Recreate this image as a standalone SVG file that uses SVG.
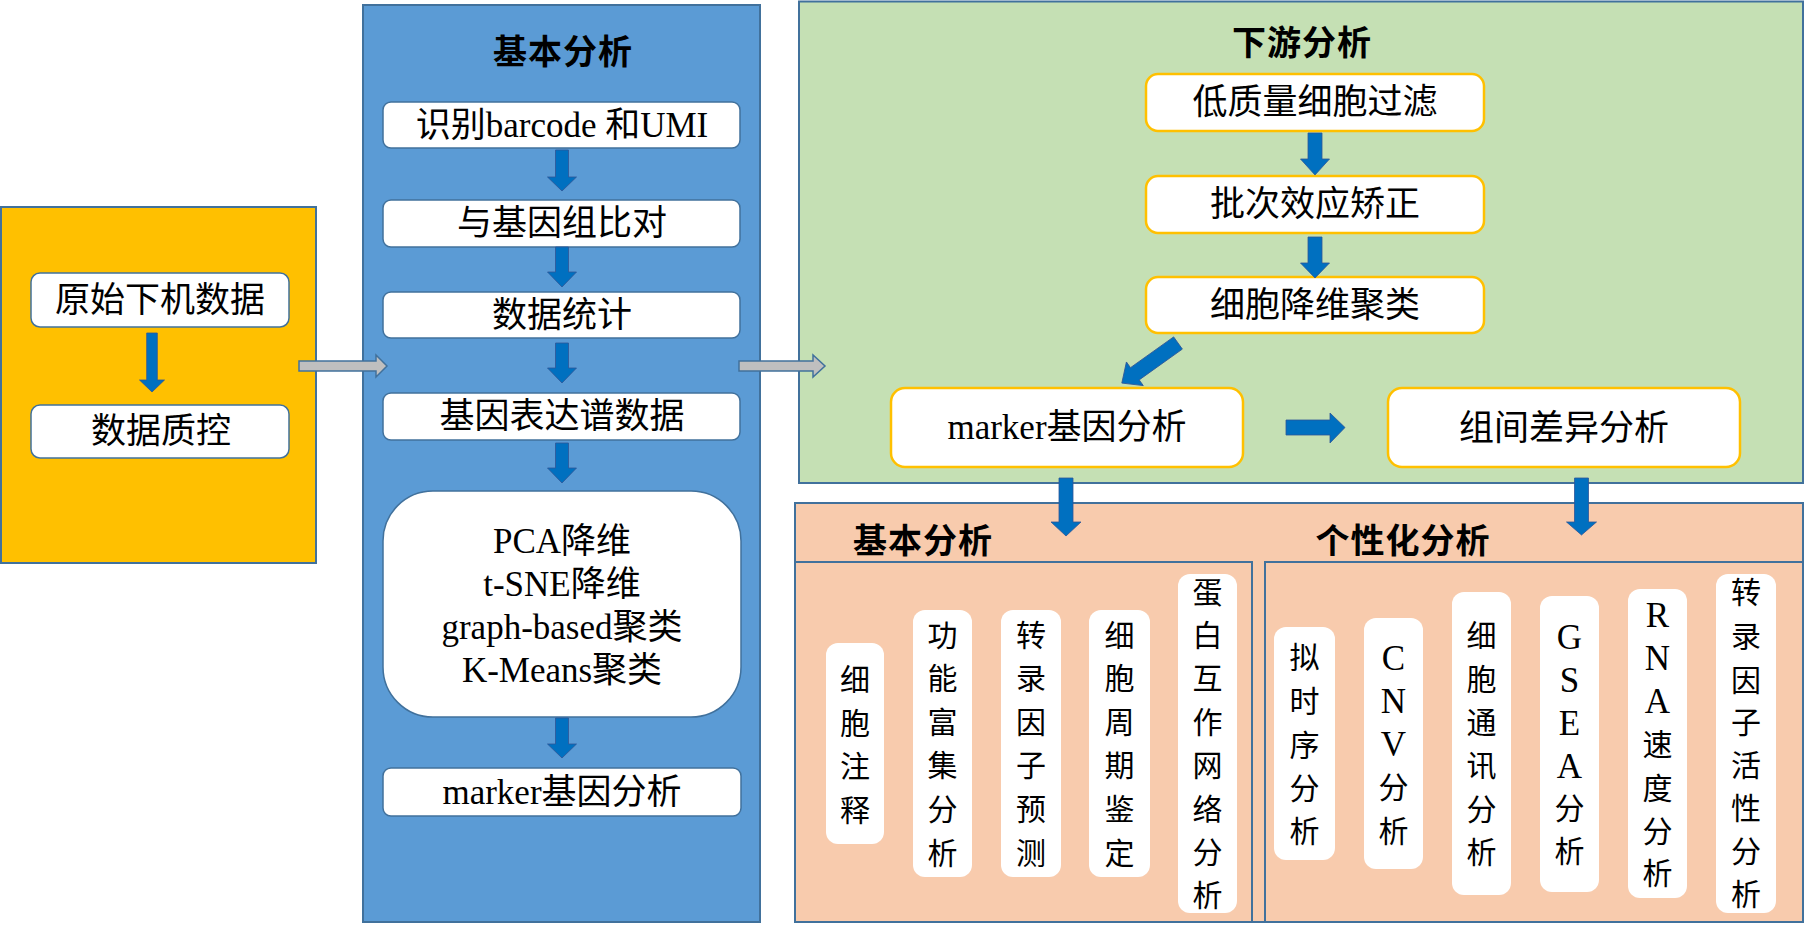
<svg xmlns="http://www.w3.org/2000/svg" width="1805" height="925" viewBox="0 0 1805 925">
<style>
.t{font-family:"Liberation Serif","Noto Sans CJK SC",serif;font-size:35px;fill:#000;text-anchor:middle;dominant-baseline:central}
.h{font-family:"Noto Sans CJK SC",sans-serif;font-weight:bold;font-size:34px;letter-spacing:1px;fill:#000;text-anchor:middle;dominant-baseline:central}
.v{font-family:"Liberation Serif","Noto Sans CJK SC",serif;font-size:30px;fill:#000;text-anchor:middle;dominant-baseline:central}
.vl{font-size:35px}
.frame{stroke:#41719C;stroke-width:2}
.wb{fill:#fff;stroke:#41719C;stroke-width:1.5}
.wg{fill:#fff;stroke:#FFC000;stroke-width:2.5}
.ws{fill:#fff}
.ar{fill:#0070C0;stroke:#2F5597;stroke-width:0.8}
.ga{fill:#BFBFBF;stroke:#41719C;stroke-width:1.5}
</style>
<rect width="1805" height="925" fill="#fff"/>

<g id="raw-data-panel">
<rect class="frame" x="1" y="207" width="315" height="356" fill="#FFC000"/>
</g>
<g id="node-raw"><rect class="wb" x="31" y="273" width="258" height="54" rx="9"/><text class="t" x="160" y="300">原始下机数据</text></g>
<g id="node-qc"><rect class="wb" x="31" y="405" width="258" height="53" rx="9"/><text class="t" x="161" y="431.5">数据质控</text></g>

<g id="basic-panel">
<rect class="frame" x="363" y="5" width="397" height="917" fill="#5B9BD5"/>
<text class="h" x="563" y="49">基本分析</text>
</g>
<g id="node-barcode"><rect class="wb" x="383" y="102" width="357" height="46" rx="8"/><text class="t" x="562" y="125">识别barcode 和UMI</text></g>
<g id="node-align"><rect class="wb" x="383" y="200" width="357" height="47" rx="8"/><text class="t" x="562" y="223.5">与基因组比对</text></g>
<g id="node-stat"><rect class="wb" x="383" y="292" width="357" height="46" rx="8"/><text class="t" x="562" y="315">数据统计</text></g>
<g id="node-expr"><rect class="wb" x="383" y="393" width="357" height="47" rx="8"/><text class="t" x="562" y="416.5">基因表达谱数据</text></g>
<g id="node-cluster"><rect class="wb" x="383" y="491" width="358" height="226" rx="50"/>
<text class="t" x="562" y="541">PCA降维</text>
<text class="t" x="562" y="584">t-SNE降维</text>
<text class="t" x="562" y="627">graph-based聚类</text>
<text class="t" x="562" y="670">K-Means聚类</text></g>
<g id="node-marker1"><rect class="wb" x="383" y="768" width="358" height="48" rx="8"/><text class="t" x="562" y="792">marker基因分析</text></g>

<g id="downstream-panel">
<rect class="frame" x="799" y="1.5" width="1004" height="481.5" fill="#C5E0B4"/>
<text class="h" x="1302" y="40">下游分析</text>
</g>
<g id="node-filter"><rect class="wg" x="1146" y="74" width="338" height="57" rx="12"/><text class="t" x="1315" y="102.5">低质量细胞过滤</text></g>
<g id="node-batch"><rect class="wg" x="1146" y="176" width="338" height="57" rx="12"/><text class="t" x="1315" y="204.5">批次效应矫正</text></g>
<g id="node-dimred"><rect class="wg" x="1146" y="277" width="338" height="56" rx="12"/><text class="t" x="1315" y="305">细胞降维聚类</text></g>
<g id="node-marker2"><rect class="wg" x="891" y="388" width="352" height="79" rx="14"/><text class="t" x="1067" y="427.5">marker基因分析</text></g>
<g id="node-diff"><rect class="wg" x="1388" y="388" width="352" height="79" rx="14"/><text class="t" x="1564" y="428">组间差异分析</text></g>

<g id="analysis-panel">
<rect class="frame" x="795" y="503" width="1008" height="419" fill="#F8CBAD"/>
<rect class="frame" x="795" y="562" width="457" height="360" fill="none"/>
<rect class="frame" x="1265" y="562" width="538" height="360" fill="none"/>
<text class="h" x="923" y="538">基本分析</text>
<text class="h" x="1403" y="538">个性化分析</text>
</g>

<g id="node-annot"><rect class="ws" x="826" y="643" width="58" height="201" rx="12"/>
<text class="v"><tspan x="855" y="679">细</tspan><tspan x="855" y="723">胞</tspan><tspan x="855" y="766">注</tspan><tspan x="855" y="810">释</tspan></text></g>
<g id="node-enrich"><rect class="ws" x="913" y="610" width="59" height="267" rx="12"/>
<text class="v"><tspan x="942.5" y="635">功</tspan><tspan x="942.5" y="678">能</tspan><tspan x="942.5" y="722">富</tspan><tspan x="942.5" y="765">集</tspan><tspan x="942.5" y="809">分</tspan><tspan x="942.5" y="853">析</tspan></text></g>
<g id="node-tfpred"><rect class="ws" x="1001" y="610" width="60" height="267" rx="12"/>
<text class="v"><tspan x="1031" y="635">转</tspan><tspan x="1031" y="678">录</tspan><tspan x="1031" y="722">因</tspan><tspan x="1031" y="765">子</tspan><tspan x="1031" y="809">预</tspan><tspan x="1031" y="853">测</tspan></text></g>
<g id="node-cycle"><rect class="ws" x="1089" y="610" width="61" height="267" rx="12"/>
<text class="v"><tspan x="1119.5" y="635">细</tspan><tspan x="1119.5" y="678">胞</tspan><tspan x="1119.5" y="722">周</tspan><tspan x="1119.5" y="765">期</tspan><tspan x="1119.5" y="809">鉴</tspan><tspan x="1119.5" y="853">定</tspan></text></g>
<g id="node-ppi"><rect class="ws" x="1178" y="574" width="59" height="339" rx="12"/>
<text class="v"><tspan x="1207.5" y="592">蛋</tspan><tspan x="1207.5" y="635">白</tspan><tspan x="1207.5" y="678">互</tspan><tspan x="1207.5" y="722">作</tspan><tspan x="1207.5" y="765">网</tspan><tspan x="1207.5" y="809">络</tspan><tspan x="1207.5" y="852">分</tspan><tspan x="1207.5" y="895">析</tspan></text></g>

<g id="node-pseudo"><rect class="ws" x="1274" y="627" width="61" height="233" rx="12"/>
<text class="v"><tspan x="1304.5" y="657">拟</tspan><tspan x="1304.5" y="701">时</tspan><tspan x="1304.5" y="745">序</tspan><tspan x="1304.5" y="788">分</tspan><tspan x="1304.5" y="831">析</tspan></text></g>
<g id="node-cnv"><rect class="ws" x="1364" y="618" width="59" height="251" rx="12"/>
<text class="v"><tspan class="vl" x="1393.5" y="658">C</tspan><tspan class="vl" x="1393.5" y="701">N</tspan><tspan class="vl" x="1393.5" y="744">V</tspan><tspan x="1393.5" y="787">分</tspan><tspan x="1393.5" y="831">析</tspan></text></g>
<g id="node-comm"><rect class="ws" x="1452" y="592" width="59" height="303" rx="12"/>
<text class="v"><tspan x="1481.5" y="635">细</tspan><tspan x="1481.5" y="679">胞</tspan><tspan x="1481.5" y="722">通</tspan><tspan x="1481.5" y="765">讯</tspan><tspan x="1481.5" y="809">分</tspan><tspan x="1481.5" y="852">析</tspan></text></g>
<g id="node-gsea"><rect class="ws" x="1540" y="596" width="59" height="296" rx="12"/>
<text class="v"><tspan class="vl" x="1569.5" y="637">G</tspan><tspan class="vl" x="1569.5" y="680">S</tspan><tspan class="vl" x="1569.5" y="723">E</tspan><tspan class="vl" x="1569.5" y="766">A</tspan><tspan x="1569.5" y="808">分</tspan><tspan x="1569.5" y="851">析</tspan></text></g>
<g id="node-velocity"><rect class="ws" x="1628" y="589" width="59" height="309" rx="12"/>
<text class="v"><tspan class="vl" x="1657.5" y="615">R</tspan><tspan class="vl" x="1657.5" y="658">N</tspan><tspan class="vl" x="1657.5" y="701">A</tspan><tspan x="1657.5" y="744">速</tspan><tspan x="1657.5" y="788">度</tspan><tspan x="1657.5" y="831">分</tspan><tspan x="1657.5" y="873">析</tspan></text></g>
<g id="node-tfact"><rect class="ws" x="1716" y="574" width="60" height="339" rx="12"/>
<text class="v"><tspan x="1746" y="592">转</tspan><tspan x="1746" y="636">录</tspan><tspan x="1746" y="680">因</tspan><tspan x="1746" y="722">子</tspan><tspan x="1746" y="765">活</tspan><tspan x="1746" y="808">性</tspan><tspan x="1746" y="851">分</tspan><tspan x="1746" y="894">析</tspan></text></g>

<g id="connectors">
<path class="ar" d="M146.7,333 H157.3 V380 H164.5 L152,392 L139.5,380 H146.7 Z"/>
<path class="ar" d="M555.5,150 H568.5 V177 H576.5 L562,191 L547.5,177 H555.5 Z"/>
<path class="ar" d="M555.5,247 H568.5 V272 H576.5 L562,287 L547.5,272 H555.5 Z"/>
<path class="ar" d="M555.5,343 H568.5 V368 H576.5 L562,383 L547.5,368 H555.5 Z"/>
<path class="ar" d="M555.5,443 H568.5 V468 H576.5 L562,483 L547.5,468 H555.5 Z"/>
<path class="ar" d="M555.5,718 H568.5 V744 H576.5 L562,758 L547.5,744 H555.5 Z"/>
<path class="ar" d="M1308,133 H1322 V159 H1329.5 L1315,175 L1300.5,159 H1308 Z"/>
<path class="ar" d="M1308,237 H1322 V263 H1329.5 L1315,278 L1300.5,263 H1308 Z"/>
<path class="ar" transform="translate(1178,343) rotate(144.5)" d="M0,-7.5 H53 V-14.5 L69,0 L53,14.5 V7.5 H0 Z"/>
<path class="ar" d="M1286,420 V435 H1330 V443 L1345,427.5 L1330,413 V420 Z"/>
<path class="ar" d="M1059,478 H1073 V522 H1081 L1066,536 L1051,522 H1059 Z"/>
<path class="ar" d="M1574.5,478 H1588.5 V522 H1596.5 L1581.5,535 L1566.5,522 H1574.5 Z"/>
<path class="ga" d="M299,361 H376 V355 L387,366 L376,377 V371 H299 Z"/>
<path class="ga" d="M739,361 H813 V355 L825,366 L813,377 V371 H739 Z"/>
</g>
</svg>
